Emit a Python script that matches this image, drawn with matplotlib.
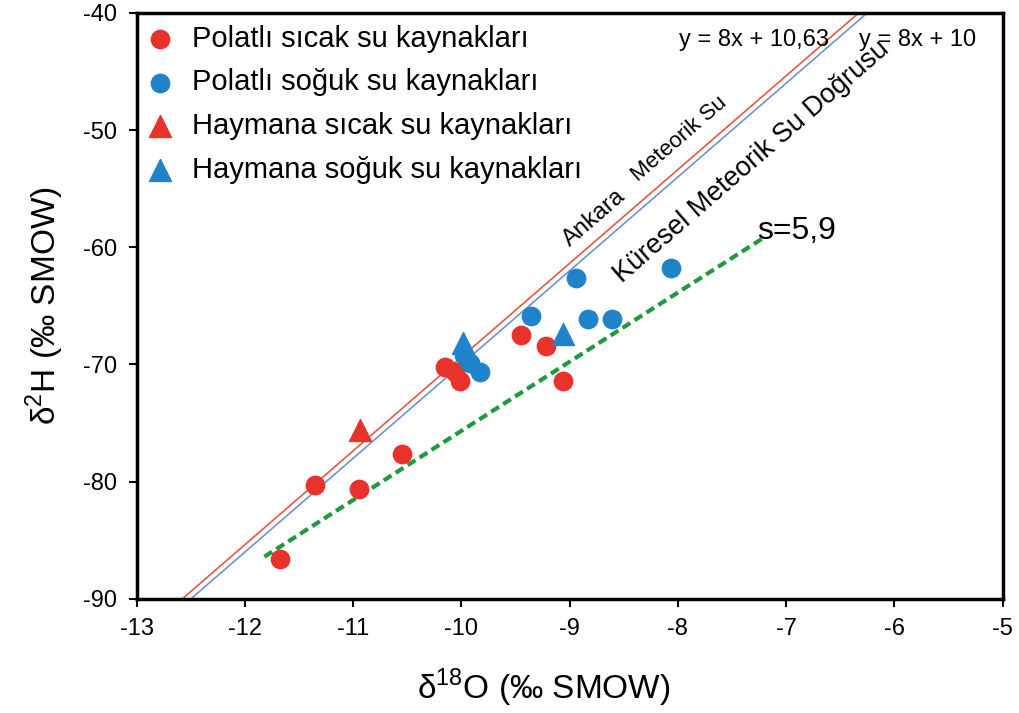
import numpy as np
import matplotlib
matplotlib.use('Agg')
import matplotlib.pyplot as plt

plt.rcParams['font.family'] = ['Liberation Sans', 'DejaVu Sans']
plt.rcParams['mathtext.fontset'] = 'custom'
plt.rcParams['mathtext.rm'] = 'Liberation Sans'
plt.rcParams['axes.unicode_minus'] = False

# Veriler
polatli_sicak_x = [-11.68, -11.35, -10.95, -10.55, -10.15, -10.06, -10.01, -9.45, -9.22, -9.06]
polatli_sicak_y = [-86.6, -80.3, -80.6, -77.6, -70.2, -70.6, -71.4, -67.5, -68.4, -71.4]

polatli_soguk_x = [-9.36, -8.94, -8.83, -8.61, -8.06, -9.83, -9.92, -9.98]
polatli_soguk_y = [-65.9, -62.6, -66.1, -66.1, -61.8, -70.6, -69.9, -69.2]

haymana_sicak_x = [-10.94]
haymana_sicak_y = [-75.6]

haymana_soguk_x = [-9.99, -9.06]
haymana_soguk_y = [-68.2, -67.4]

# Doğrular
ankara_egim, ankara_kesim = 8, 10.63
kuresel_egim, kuresel_kesim = 8, 10
s_egim, s_kesim = 5.9, -16.66
s_x_aralik = [-11.82, -7.2]

kirmizi = '#e8322b'
mavi = '#1f83c9'

fig = plt.figure(figsize=(10.2, 7.13), dpi=100)
ax = fig.add_axes([0.134, 0.160, 0.849, 0.822])

xx = np.array([-13, -5])
ax.plot(xx, ankara_egim * xx + ankara_kesim, color='#e8583c', lw=1.2, zorder=2)
ax.plot(xx, kuresel_egim * xx + kuresel_kesim, color='#6d93d2', lw=1.2, zorder=2)
sx = np.array(s_x_aralik)
ax.plot(sx, s_egim * sx + s_kesim, color='#1f9a3c', lw=3, ls=(0, (2.2, 1.2)), zorder=2)

ax.scatter(polatli_sicak_x, polatli_sicak_y, s=175, color=kirmizi, marker='o',
           label='Polatlı sıcak su kaynakları', zorder=3)
ax.scatter(polatli_soguk_x, polatli_soguk_y, s=175, color=mavi, marker='o',
           label='Polatlı soğuk su kaynakları', zorder=3)
ax.scatter(haymana_sicak_x, haymana_sicak_y, s=250, color=kirmizi, marker='^',
           label='Haymana sıcak su kaynakları', zorder=3)
ax.scatter(haymana_soguk_x, haymana_soguk_y, s=250, color=mavi, marker='^',
           label='Haymana soğuk su kaynakları', zorder=3)

ax.set_xlim(-13, -5)
ax.set_ylim(-90, -40)
ax.set_xticks(np.arange(-13, -4, 1))
ax.set_yticks(np.arange(-90, -39, 10))
ax.tick_params(direction='out', length=6, width=1.5, labelsize=17, pad=8)
for sp in ax.spines.values():
    sp.set_linewidth(2.5)

ax.set_xlabel('δ$^{18}$O (‰ SMOW)', fontsize=24)
ax.xaxis.set_label_coords(0.47, -0.115)
ax.set_ylabel('δ$^{2}$H (‰ SMOW)', fontsize=24, labelpad=12)

leg = ax.legend(loc='upper left', frameon=False, fontsize=21, handletextpad=0.6,
                labelspacing=0.54, borderaxespad=0.1, borderpad=0.2, handlelength=1.0,
                bbox_to_anchor=(0.0, 0.995))

# Eğim açısı (ekran koordinatlarında)
fig.canvas.draw()
p1 = ax.transData.transform((-12, 8 * -12 + 10))
p2 = ax.transData.transform((-7, 8 * -7 + 10))
aci = np.degrees(np.arctan2(p2[1] - p1[1], p2[0] - p1[0]))

ax.text(-9.0, -60.0, 'Ankara', fontsize=17, rotation=aci, rotation_mode='anchor')
ax.text(-8.37, -54.4, 'Meteorik Su', fontsize=16, rotation=aci, rotation_mode='anchor')
ax.text(-8.52, -63.05, 'Küresel Meteorik Su Doğrusu', fontsize=19.5, rotation=aci,
        rotation_mode='anchor')

ax.text(-7.30, -42.85, 'y = 8x + 10,63', fontsize=17, ha='center')
ax.text(-5.79, -42.85, 'y = 8x + 10', fontsize=17, ha='center')
ax.text(-7.27, -59.3, 's=5,9', fontsize=23)

fig.savefig('out.png', dpi=100)
